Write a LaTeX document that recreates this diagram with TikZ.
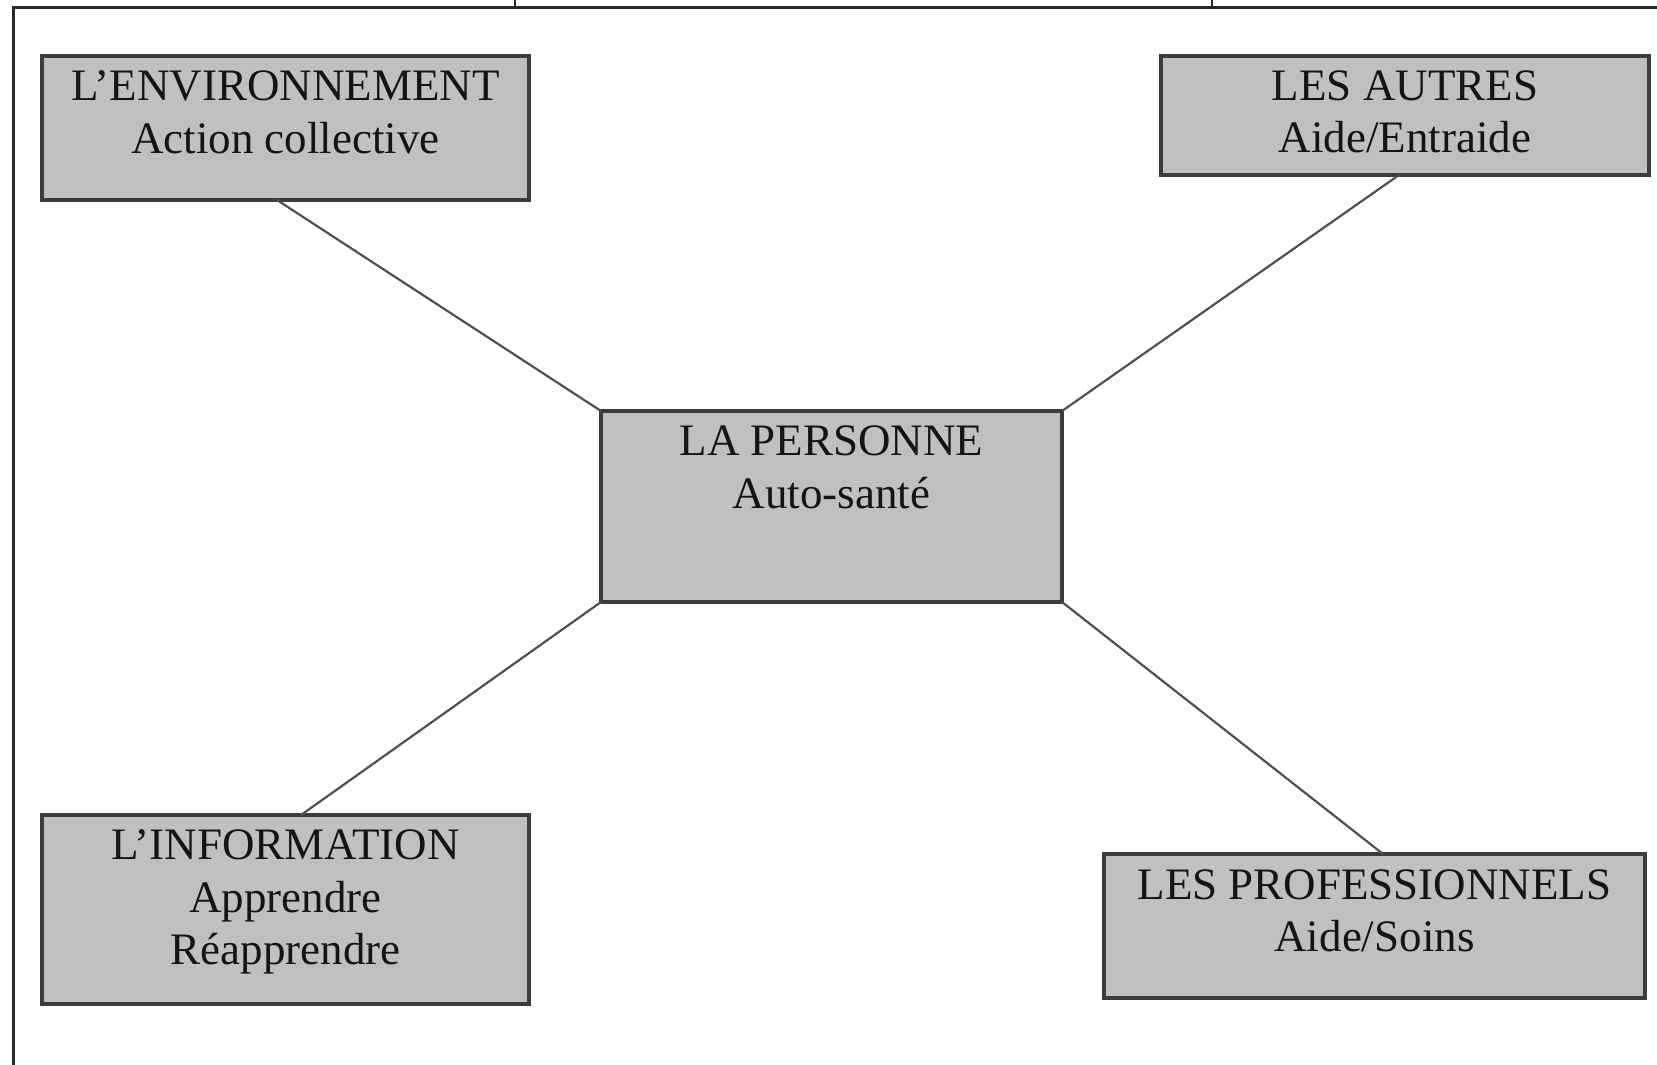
\documentclass[tikz,border=0pt]{standalone}
\usepackage{fontspec}
\setmainfont{Liberation Serif}
\usetikzlibrary{calc}
\definecolor{boxfill}{RGB}{192,192,192}
\definecolor{boxdraw}{RGB}{60,60,60}
\definecolor{linkcol}{RGB}{80,80,80}
\definecolor{framecol}{RGB}{40,40,40}
\definecolor{txtcol}{RGB}{20,20,20}
\tikzset{
  box/.style={draw=boxdraw, fill=boxfill, line width=3.2pt, inner sep=0pt, outer sep=0pt},
  boxtext/.style={anchor=north, inner sep=0pt, align=center, text=txtcol,
    font=\fontsize{45}{52.5}\selectfont},
  link/.style={draw=linkcol, line width=2.2pt},
  frameline/.style={draw=framecol, line width=3pt}
}
\begin{document}
\begin{tikzpicture}[x=1pt,y=-1pt]
\useasboundingbox (0,0) rectangle (1657,1065);
% frame
\coordinate (ftl) at (13,8);
\coordinate (ftr) at (1657,8);
\coordinate (fbl) at (13,1065);
\draw[frameline] (ftr) -- (ftl) -- (fbl);
\coordinate (tickA) at (515,0);
\coordinate (tickB) at (1212,0);
\draw[frameline, line width=2.5pt] (tickA) -- (tickA |- ftl);
\draw[frameline, line width=2.5pt] (tickB) -- (tickB |- ftl);
% boxes
\node[box, minimum width=487pt, minimum height=144pt] (env) at (285.5,128) {};
\node[box, minimum width=488pt, minimum height=119pt] (aut) at (1405,115.5) {};
\node[box, minimum width=461pt, minimum height=191pt] (pers) at (831.5,506.5) {};
\node[box, minimum width=487pt, minimum height=189pt] (info) at (285.5,909.5) {};
\node[box, minimum width=541pt, minimum height=144pt] (pro) at (1374.5,926) {};
% texts
\node[boxtext] (envt) at ($(env.north)+(0,14.5)$) {L’ENVIRONNEMENT\\Action collective};
\node[boxtext] (autt) at ($(aut.north)+(0,14.5)$) {LES AUTRES\\Aide/Entraide};
\node[boxtext] (perst) at ($(pers.north)+(0,14.5)$) {LA PERSONNE\\Auto-santé};
\node[boxtext] (infot) at ($(info.north)+(0,14.5)$) {L’INFORMATION\\Apprendre\\Réapprendre};
\node[boxtext] (prot) at ($(pro.north)+(0,15)$) {LES PROFESSIONNELS\\Aide/Soins};
% connectors
\coordinate (envp) at ($(env.south west)+(235,0)$);
\coordinate (autp) at ($(aut.south west)+(238,0)$);
\coordinate (infop) at ($(info.north west)+(259,0)$);
\coordinate (prop) at ($(pro.north west)+(279,0)$);
\draw[link] (envp) -- (pers.north west);
\draw[link] (autp) -- (pers.north east);
\draw[link] (infop) -- (pers.south west);
\draw[link] (prop) -- (pers.south east);
\end{tikzpicture}
\end{document}
